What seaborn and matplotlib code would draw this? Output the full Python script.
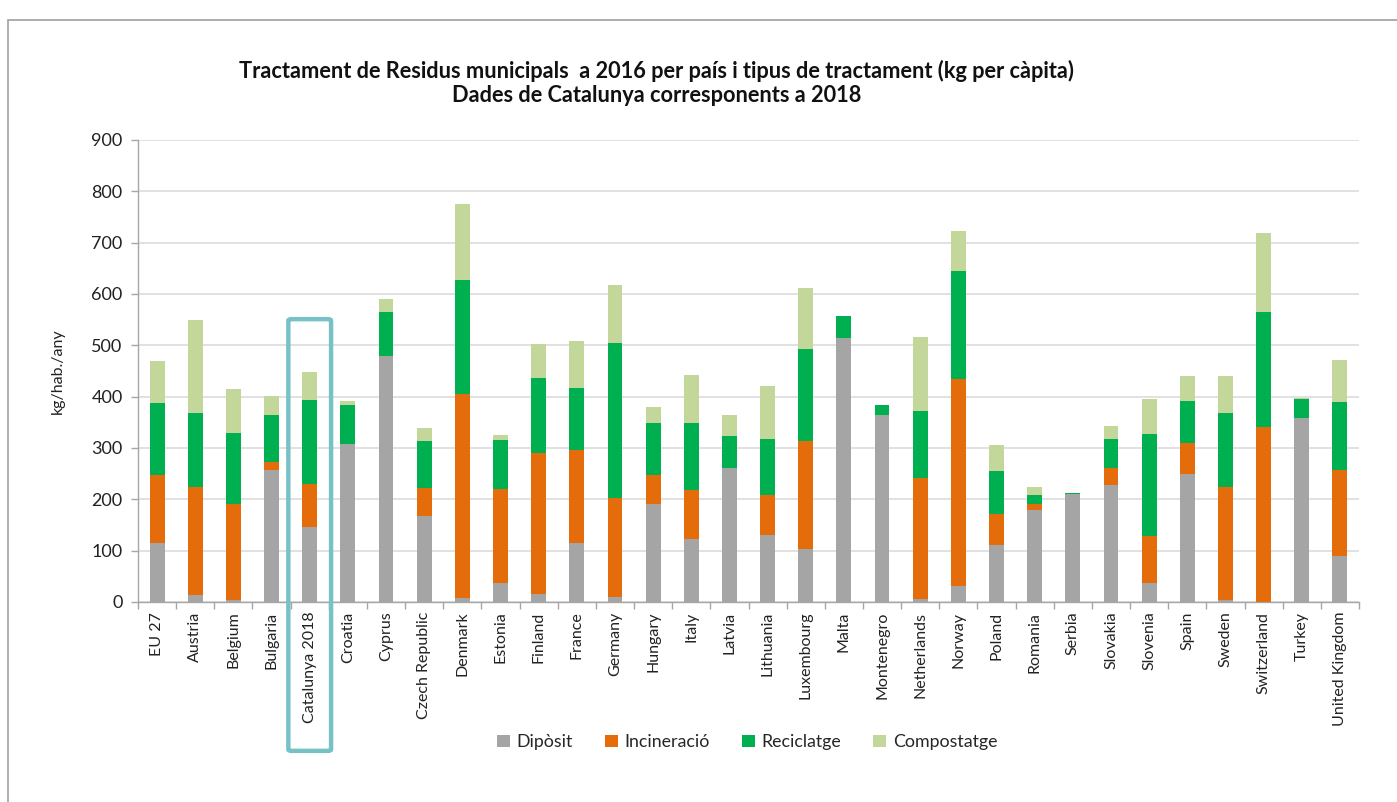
import numpy as np
import pandas as pd
import matplotlib
matplotlib.use("Agg")
import matplotlib.pyplot as plt
import seaborn as sns
from matplotlib.patches import Patch, FancyBboxPatch, Rectangle

countries = ["EU 27", "Austria", "Belgium", "Bulgaria", "Catalunya 2018", "Croatia", "Cyprus",
             "Czech Republic", "Denmark", "Estonia", "Finland", "France", "Germany", "Hungary",
             "Italy", "Latvia", "Lithuania", "Luxembourg", "Malta", "Montenegro", "Netherlands",
             "Norway", "Poland", "Romania", "Serbia", "Slovakia", "Slovenia", "Spain", "Sweden",
             "Switzerland", "Turkey", "United Kingdom"]
diposit      = [115, 14, 3, 258, 147, 308, 479, 168, 8, 37, 15, 114, 9, 191, 122, 262, 131, 104,
                514, 364, 6, 31, 111, 180, 210, 227, 37, 250, 3, 0, 358, 90]
incineracio  = [132, 211, 187, 15, 83, 0, 0, 55, 397, 184, 276, 183, 194, 56, 97, 0, 77, 210,
                0, 0, 236, 403, 60, 11, 0, 35, 92, 60, 222, 341, 0, 167]
reciclatge   = [141, 144, 139, 92, 164, 76, 86, 91, 222, 94, 146, 119, 301, 101, 129, 62, 109, 178,
                44, 19, 131, 210, 85, 17, 2, 55, 198, 81, 143, 223, 37, 133]
compostatge  = [81, 181, 85, 37, 54, 8, 25, 24, 148, 11, 66, 92, 113, 31, 94, 41, 103, 120,
                0, 0, 143, 78, 49, 17, 0, 26, 68, 50, 72, 155, 2, 81]
series_names = ["Dipòsit", "Incineració", "Reciclatge", "Compostatge"]
series_colors = ["#A5A5A5", "#E46C0A", "#00B050", "#C4D79B"]
yticks = [0, 100, 200, 300, 400, 500, 600, 700, 800, 900]

sns.set_theme(style="white")
FONT = ["Lato", "DejaVu Sans"]
plt.rcParams["font.family"] = FONT

fig = plt.figure(figsize=(13.97, 8.02), dpi=100)
ax = fig.add_axes([138/1397, 1-602/802, (1359-138)/1397, (602-140)/802])

df = pd.DataFrame({"country": countries, "Dipòsit": diposit, "Incineració": incineracio,
                   "Reciclatge": reciclatge, "Compostatge": compostatge})
cum = df[series_names].cumsum(axis=1)

# draw from the top cumulative level down so each segment shows
for name, col in reversed(list(zip(series_names, series_colors))):
    sns.barplot(x=df["country"], y=cum[name], color=col, width=0.39, saturation=1,
                ax=ax, order=countries, linewidth=0, zorder=3)

ax.set_ylim(0, 900)
ax.set_xlim(-0.5, len(countries) - 0.5)
ax.set_yticks(yticks)
ax.set_yticklabels([str(v) for v in yticks], fontsize=13, color="#222222")
ax.yaxis.grid(True, color="#D9D9D9", linewidth=1.1, zorder=0)
ax.xaxis.grid(False)
ax.set_axisbelow(True)
ax.set_xlabel("")
ax.set_ylabel("kg/hab./any", fontsize=11.5, color="#222222", labelpad=19)
ax.set_xticks(range(len(countries)))
ax.set_xticklabels(countries, rotation=90, fontsize=11.5, color="#222222")
ax.set_xticks(np.arange(-0.5, len(countries) + 0.5, 1), minor=True)
ax.tick_params(axis="x", which="major", length=0, pad=7)
ax.tick_params(axis="x", which="minor", length=5, color="#A6A6A6", width=1, direction="out", bottom=True)
ax.tick_params(axis="y", which="major", length=5, color="#A6A6A6", width=1, direction="out", left=True, pad=6)
for s in ["top", "right"]:
    ax.spines[s].set_visible(False)
for s in ["left", "bottom"]:
    ax.spines[s].set_color("#A6A6A6")
    ax.spines[s].set_linewidth(1)

# highlight box around Catalunya 2018
ci = countries.index("Catalunya 2018")
box = FancyBboxPatch((ci - 0.56, -290), 1.12, 290 + 551,
                     boxstyle="round,pad=0,rounding_size=0.08", mutation_aspect=40,
                     fill=False, edgecolor="#77C2C6", linewidth=3.2, clip_on=False, zorder=5,
                     transform=ax.transData)
ax.add_patch(box)

fig.text(0.470, 1 - 71/802, "Tractament de Residus municipals  a 2016 per país i tipus de tractament (kg per càpita)",
         ha="center", va="center", fontsize=15.7, fontweight="bold", color="#111111")
fig.text(0.470, 1 - 96/802, "Dades de Catalunya corresponents a 2018",
         ha="center", va="center", fontsize=15.7, fontweight="bold", color="#111111")

handles = [Patch(facecolor=c, edgecolor="none", label=n) for n, c in zip(series_names, series_colors)]
fig.legend(handles=handles, loc="center", bbox_to_anchor=(0.535, 1 - 742/802), ncol=4,
           frameon=False, fontsize=12.8, handlelength=0.7, handleheight=0.7,
           handletextpad=0.4, columnspacing=1.8)

# outer frame of the slide
fig.add_artist(Rectangle((8/1397, -0.01), 1.1, 1 - 20/802 + 0.01, transform=fig.transFigure,
                         fill=False, edgecolor="#A0A0A0", linewidth=1.2))

fig.savefig("out.png", dpi=100)
